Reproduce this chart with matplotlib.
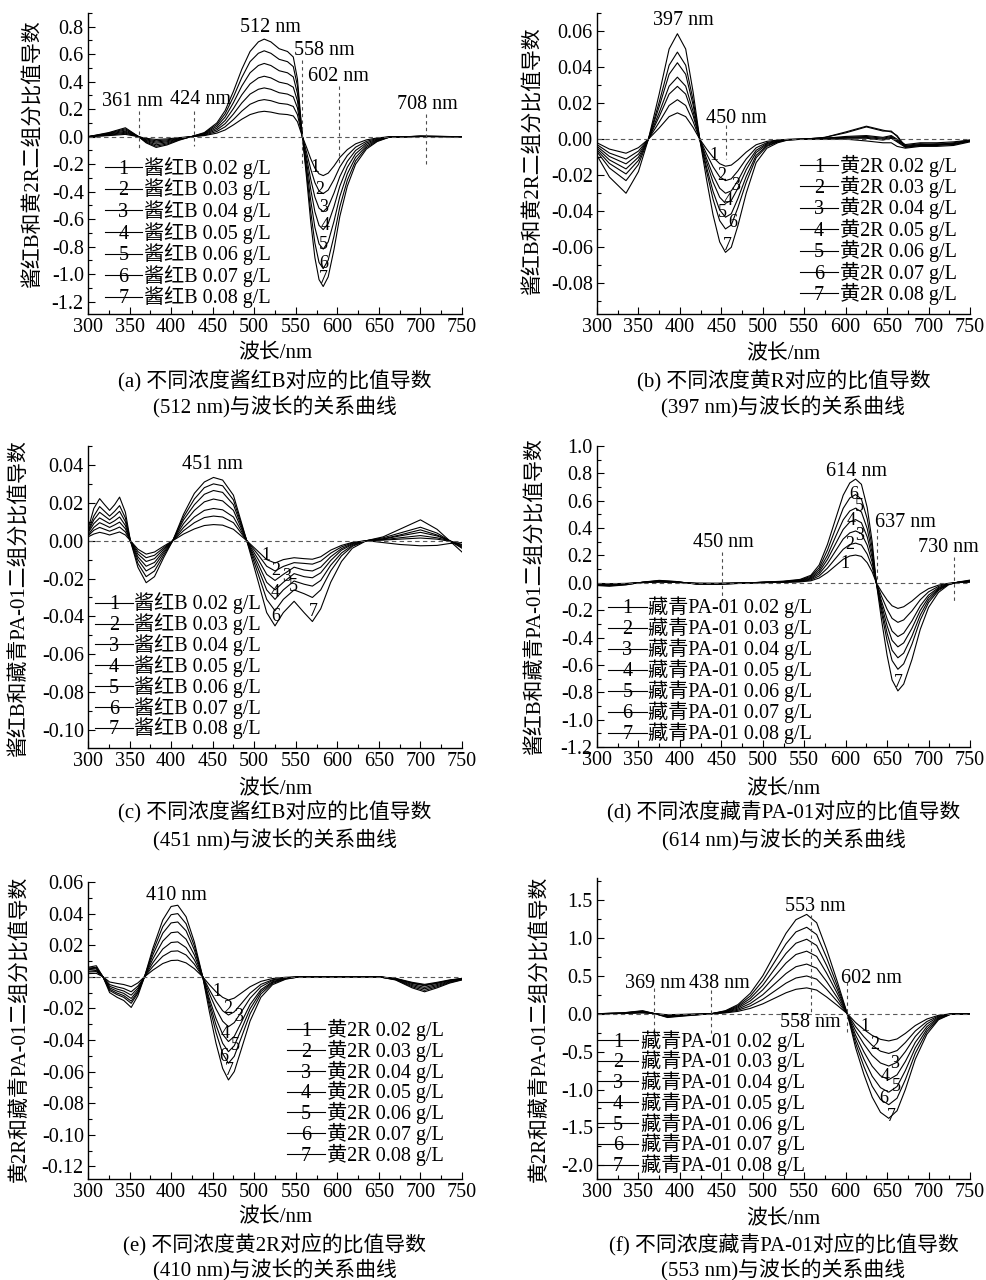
import matplotlib
matplotlib.use('Agg')
import matplotlib.pyplot as plt
from matplotlib.ticker import MultipleLocator, FuncFormatter
from matplotlib.transforms import offset_copy

plt.rcParams['font.family'] = ['Liberation Serif', 'Noto Sans CJK SC']
plt.rcParams['axes.unicode_minus'] = False

W, H = 987, 1280
CONC = ['0.02', '0.03', '0.04', '0.05', '0.06', '0.07', '0.08']
NUMS = ['1', '2', '3', '4', '5', '6', '7']

# ---------------- panel (a) ----------------
A_WL = [300, 325, 345, 361, 370, 382, 395, 410, 424, 440, 455, 465, 475, 485, 495, 505, 512, 520, 530, 540,
        547, 552, 558, 563, 568, 573, 578, 583, 589, 596, 603, 612, 622, 635, 648, 662, 700, 750]
A_C1 = [0.0, 0.008, 0.017, 0.0, -0.012, -0.020, -0.016, -0.0065, 0.0, 0.008, 0.026, 0.049, 0.086, 0.127, 0.161, 0.179, 0.185, 0.179, 0.166, 0.161,
        0.151, 0.109, 0.0, -0.078, -0.161, -0.229, -0.27, -0.283, -0.265, -0.213, -0.151, -0.094, -0.052, -0.023, -0.009, -0.001, 0.001, 0.0]
A_C2 = [0.0, 0.011, 0.025, 0.0, -0.017, -0.030, -0.023, -0.0095, 0.0, 0.011, 0.038, 0.072, 0.125, 0.186, 0.236, 0.262, 0.27, 0.262, 0.243, 0.236,
        0.22, 0.16, 0.0, -0.114, -0.236, -0.334, -0.395, -0.414, -0.388, -0.312, -0.22, -0.137, -0.076, -0.034, -0.013, -0.002, 0.0015, 0.0]
A_C3 = [0.0, 0.015, 0.0325, 0.0, -0.0225, -0.039, -0.03, -0.0125, 0.0, 0.015, 0.05, 0.095, 0.165, 0.245, 0.31, 0.345, 0.355, 0.345, 0.32, 0.31,
        0.29, 0.21, 0.0, -0.15, -0.31, -0.44, -0.52, -0.545, -0.51, -0.41, -0.29, -0.18, -0.10, -0.045, -0.0175, -0.0025, 0.002, 0.0]
A_C4 = [0.0, 0.019, 0.040, 0.0, -0.028, -0.048, -0.037, -0.0155, 0.0, 0.019, 0.062, 0.118, 0.205, 0.304, 0.384, 0.428, 0.44, 0.428, 0.397, 0.384,
        0.36, 0.26, 0.0, -0.186, -0.384, -0.546, -0.645, -0.676, -0.632, -0.508, -0.36, -0.223, -0.124, -0.056, -0.022, -0.003, 0.0025, 0.0]
A_C5 = [0.0, 0.0225, 0.049, 0.0, -0.034, -0.059, -0.045, -0.019, 0.0, 0.0225, 0.075, 0.143, 0.248, 0.368, 0.465, 0.518, 0.533, 0.518, 0.48, 0.465,
        0.435, 0.315, 0.0, -0.225, -0.465, -0.66, -0.78, -0.818, -0.765, -0.615, -0.435, -0.27, -0.15, -0.068, -0.026, -0.004, 0.003, 0.0]
A_C6 = [0.0, 0.026, 0.057, 0.0, -0.040, -0.069, -0.053, -0.022, 0.0, 0.026, 0.088, 0.167, 0.29, 0.43, 0.546, 0.607, 0.625, 0.607, 0.563, 0.546,
        0.51, 0.37, 0.0, -0.264, -0.546, -0.774, -0.915, -0.96, -0.898, -0.722, -0.51, -0.317, -0.176, -0.079, -0.031, -0.004, 0.0035, 0.0]
A_C7 = [0.0, 0.03, 0.065, 0.0, -0.045, -0.078, -0.06, -0.025, 0.0, 0.03, 0.10, 0.19, 0.33, 0.49, 0.62, 0.69, 0.71, 0.69, 0.64, 0.62,
        0.58, 0.42, 0.0, -0.30, -0.62, -0.88, -1.04, -1.09, -1.02, -0.82, -0.58, -0.36, -0.20, -0.09, -0.035, -0.005, 0.004, 0.0]

# ---------------- panel (b) ----------------
B_WL = [300, 315, 335, 350, 362, 375, 387, 397, 407, 416, 424, 432, 440, 448, 455, 462, 470, 480, 492, 505, 518, 530, 550,
        575, 600, 625, 645, 655, 662, 672, 690, 710, 730, 750]
B_C1 = [-0.002, -0.0055, -0.0078, -0.0047, 0.0, 0.0062, 0.0125, 0.0146, 0.0125, 0.0065, 0.0, -0.0053, -0.010, -0.0136, -0.015, -0.0144, -0.0115, -0.0072, -0.0031, -0.0012, -0.0005, -0.0001, 0.0,
        0.0, 0.0, -0.001, -0.002, -0.002, -0.004, -0.005, -0.004, -0.004, -0.0035, -0.0015]
B_C2 = [-0.003, -0.0077, -0.011, -0.0066, 0.0, 0.0094, 0.0187, 0.0219, 0.0187, 0.0097, 0.0, -0.008, -0.0153, -0.0209, -0.023, -0.022, -0.0176, -0.011, -0.0048, -0.0019, -0.0007, -0.0002, 0.0,
        0.0, 0.0005, 0.0005, -0.0005, 0.0005, -0.0015, -0.0045, -0.0035, -0.0035, -0.003, -0.001]
B_C3 = [-0.004, -0.0096, -0.0137, -0.0083, 0.0, 0.0125, 0.025, 0.0293, 0.025, 0.013, 0.0, -0.0105, -0.020, -0.0272, -0.030, -0.0287, -0.023, -0.0143, -0.0062, -0.0024, -0.001, -0.0002, 0.0,
        0.0005, 0.001, 0.001, 0.0, 0.001, -0.001, -0.004, -0.003, -0.003, -0.0025, -0.001]
B_C4 = [-0.005, -0.0115, -0.0165, -0.0100, 0.0, 0.0147, 0.0294, 0.0344, 0.0294, 0.0153, 0.0, -0.0125, -0.0238, -0.0322, -0.0356, -0.034, -0.0272, -0.017, -0.0074, -0.0029, -0.0011, -0.0003, 0.0,
        0.0005, 0.001, 0.0015, 0.0005, 0.0015, -0.0005, -0.0035, -0.0025, -0.003, -0.002, -0.0005]
B_C5 = [-0.006, -0.0135, -0.0193, -0.0118, 0.0, 0.018, 0.036, 0.0424, 0.036, 0.0188, 0.0, -0.0152, -0.029, -0.0393, -0.0433, -0.0414, -0.033, -0.0207, -0.009, -0.0035, -0.0014, -0.0003, 0.0,
        0.0005, 0.0015, 0.002, 0.001, 0.002, 0.0, -0.003, -0.002, -0.002, -0.0015, -0.0005]
B_C6 = [-0.007, -0.016, -0.023, -0.014, 0.0, 0.0205, 0.041, 0.0483, 0.041, 0.0215, 0.0, -0.0175, -0.0333, -0.0452, -0.0498, -0.0476, -0.038, -0.024, -0.0103, -0.004, -0.0016, -0.0004, 0.0,
        0.001, 0.0035, 0.0068, 0.0045, 0.0045, 0.0015, -0.0045, -0.0035, -0.003, -0.0025, -0.0008]
B_C7 = [-0.009, -0.021, -0.030, -0.018, 0.0, 0.025, 0.050, 0.0585, 0.050, 0.026, 0.0, -0.022, -0.042, -0.057, -0.0628, -0.060, -0.048, -0.030, -0.013, -0.005, -0.002, -0.0005, 0.0,
        0.001, 0.004, 0.0072, 0.005, 0.004, 0.002, -0.004, -0.003, -0.0025, -0.003, -0.001]

# ---------------- panel (c) ----------------
C_WL = [300, 307, 314, 320, 326, 332, 338, 345, 351, 360, 370, 380, 391, 402, 415, 428, 440, 451, 462, 475,
        491, 505, 515, 525, 535, 548, 560, 570, 580, 592, 605, 618, 635, 655, 675, 700, 720, 735, 750]
C_C1 = [0.002, 0.0035, 0.0044, 0.0038, 0.003, 0.0038, 0.0046, 0.003, 0.0, -0.0045, -0.0071, -0.006, -0.0029, 0.0, 0.0035, 0.0062, 0.008, 0.0085, 0.0082, 0.006,
        0.0, -0.0058, -0.010, -0.0118, -0.010, -0.009, -0.0095, -0.0098, -0.0085, -0.005, -0.0025, -0.0009, 0.0, -0.001, -0.002, -0.0027, -0.0025, -0.0015, -0.001]
C_C2 = [0.0025, 0.0055, 0.007, 0.006, 0.005, 0.006, 0.0072, 0.0046, 0.0, -0.0057, -0.009, -0.0077, -0.0037, 0.0, 0.0053, 0.0095, 0.0122, 0.013, 0.0125, 0.0095,
        0.0, -0.0076, -0.0135, -0.016, -0.0136, -0.0116, -0.012, -0.0124, -0.0108, -0.0066, -0.0033, -0.0012, 0.0, 0.0003, 0.0008, 0.0014, 0.0008, -0.0003, -0.002]
C_C3 = [0.003, 0.007, 0.0095, 0.0083, 0.007, 0.0083, 0.0098, 0.0063, 0.0, -0.007, -0.011, -0.0095, -0.0045, 0.0, 0.007, 0.0125, 0.016, 0.017, 0.0163, 0.0125,
        0.0, -0.010, -0.0178, -0.021, -0.0178, -0.014, -0.0155, -0.016, -0.014, -0.0085, -0.0042, -0.0016, 0.0, 0.0005, 0.0015, 0.0027, 0.0015, 0.0, -0.0025]
C_C4 = [0.004, 0.009, 0.012, 0.0105, 0.009, 0.0105, 0.0125, 0.008, 0.0, -0.0085, -0.0135, -0.0115, -0.0055, 0.0, 0.009, 0.016, 0.0205, 0.022, 0.021, 0.016,
        0.0, -0.0125, -0.022, -0.026, -0.022, -0.0174, -0.019, -0.0196, -0.017, -0.0105, -0.005, -0.002, 0.0, 0.0008, 0.0025, 0.0044, 0.0025, 0.0, -0.003]
C_C5 = [0.0045, 0.011, 0.015, 0.013, 0.011, 0.013, 0.0155, 0.010, 0.0, -0.010, -0.016, -0.0135, -0.0065, 0.0, 0.011, 0.019, 0.0245, 0.0265, 0.0255, 0.019,
        0.0, -0.015, -0.026, -0.031, -0.026, -0.0213, -0.023, -0.024, -0.021, -0.013, -0.0065, -0.0025, 0.0, 0.001, 0.003, 0.0057, 0.003, 0.0, -0.0035]
C_C6 = [0.005, 0.013, 0.018, 0.0155, 0.013, 0.0155, 0.0185, 0.012, 0.0, -0.012, -0.019, -0.016, -0.0077, 0.0, 0.0125, 0.022, 0.028, 0.030, 0.029, 0.0215,
        0.0, -0.018, -0.031, -0.037, -0.031, -0.026, -0.028, -0.030, -0.026, -0.016, -0.008, -0.003, 0.0, 0.0015, 0.004, 0.0071, 0.004, 0.0, -0.004]
C_C7 = [0.006, 0.017, 0.0222, 0.019, 0.016, 0.019, 0.023, 0.015, 0.0, -0.014, -0.0222, -0.019, -0.009, 0.0, 0.014, 0.025, 0.031, 0.0334, 0.032, 0.024,
        0.0, -0.022, -0.038, -0.045, -0.038, -0.032, -0.038, -0.0427, -0.036, -0.022, -0.011, -0.004, 0.0, 0.002, 0.006, 0.011, 0.006, 0.0, -0.006]

# ---------------- panel (d) ----------------
D_WL = [300, 315, 335, 355, 375, 395, 420, 445, 470, 500, 525, 545, 558, 568, 578, 588, 597, 605, 612, 619,
        626, 632, 637, 643, 650, 656, 663, 670, 680, 690, 700, 712, 724, 735, 750]
D_C1 = [-0.0054, -0.0067, -0.004, 0.0013, 0.0048, 0.0027, -0.0027, -0.0032, -0.0013, 0.0013, 0.0032, 0.0067, 0.0147, 0.035, 0.075, 0.126, 0.172, 0.196, 0.203, 0.193,
        0.147, 0.080, 0.0, -0.062, -0.126, -0.168, -0.187, -0.175, -0.133, -0.081, -0.043, -0.017, -0.0036, 0.0012, 0.0047]
D_C2 = [-0.0077, -0.0096, -0.0057, 0.0019, 0.0069, 0.0038, -0.0038, -0.0046, -0.0019, 0.0019, 0.0046, 0.0096, 0.021, 0.05, 0.107, 0.18, 0.245, 0.28, 0.29, 0.276,
        0.21, 0.115, 0.0, -0.095, -0.194, -0.26, -0.289, -0.271, -0.205, -0.124, -0.066, -0.026, -0.0055, 0.0018, 0.0073]
D_C3 = [-0.010, -0.0125, -0.0075, 0.0025, 0.009, 0.005, -0.005, -0.006, -0.0025, 0.0025, 0.006, 0.0125, 0.0275, 0.065, 0.14, 0.235, 0.32, 0.365, 0.379, 0.36,
        0.275, 0.15, 0.0, -0.129, -0.263, -0.353, -0.393, -0.368, -0.278, -0.169, -0.0895, -0.035, -0.0075, 0.0025, 0.01]
D_C4 = [-0.012, -0.015, -0.009, 0.003, 0.011, 0.006, -0.006, -0.0073, -0.003, 0.003, 0.0073, 0.015, 0.0335, 0.079, 0.171, 0.287, 0.39, 0.445, 0.462, 0.439,
        0.336, 0.183, 0.0, -0.154, -0.314, -0.421, -0.468, -0.439, -0.332, -0.202, -0.107, -0.042, -0.009, 0.003, 0.012]
D_C5 = [-0.0145, -0.018, -0.011, 0.0035, 0.013, 0.007, -0.007, -0.0085, -0.0035, 0.0035, 0.0085, 0.018, 0.04, 0.094, 0.20, 0.34, 0.46, 0.525, 0.546, 0.518,
        0.396, 0.216, 0.0, -0.18, -0.368, -0.493, -0.548, -0.514, -0.389, -0.236, -0.125, -0.049, -0.010, 0.0035, 0.014]
D_C6 = [-0.017, -0.021, -0.013, 0.004, 0.015, 0.0085, -0.0085, -0.010, -0.004, 0.004, 0.010, 0.021, 0.047, 0.11, 0.238, 0.40, 0.544, 0.62, 0.645, 0.612,
        0.468, 0.255, 0.0, -0.208, -0.424, -0.568, -0.632, -0.592, -0.448, -0.272, -0.144, -0.056, -0.012, 0.004, 0.016]
D_C7 = [-0.02, -0.025, -0.015, 0.005, 0.018, 0.01, -0.01, -0.012, -0.005, 0.005, 0.012, 0.025, 0.055, 0.13, 0.28, 0.47, 0.64, 0.73, 0.758, 0.72,
        0.55, 0.30, 0.0, -0.26, -0.53, -0.71, -0.79, -0.74, -0.56, -0.34, -0.18, -0.07, -0.015, 0.005, 0.02]

# ---------------- panel (e) ----------------
E_WL = [300, 310, 318, 326, 335, 343, 352, 360, 368, 378, 390, 400, 408, 418, 428, 438, 446, 454, 462, 469,
        476, 485, 495, 508, 522, 538, 555, 600, 650, 670, 690, 705, 720, 735, 750]
E_C1 = [0.002, 0.0022, 0.0, -0.0033, -0.0042, -0.0049, -0.0063, -0.0039, 0.0, 0.0042, 0.0084, 0.0103, 0.0105, 0.0088, 0.0051, 0.0, -0.005, -0.0095, -0.013, -0.0147,
        -0.0135, -0.0101, -0.0063, -0.0029, -0.0011, -0.0003, 0.0, 0.0, 0.0, -0.001, -0.0035, -0.0048, -0.0035, -0.002, -0.001]
E_C2 = [0.003, 0.0033, 0.0, -0.0049, -0.0064, -0.0074, -0.0095, -0.0059, 0.0, 0.0065, 0.013, 0.0161, 0.0164, 0.0138, 0.008, 0.0, -0.0081, -0.0155, -0.0215, -0.0242,
        -0.0222, -0.0167, -0.0104, -0.0048, -0.0019, -0.0006, 0.0, 0.0, 0.0, -0.0011, -0.0039, -0.0052, -0.0039, -0.0022, -0.0011]
E_C3 = [0.0035, 0.004, 0.0, -0.006, -0.0078, -0.009, -0.0116, -0.0072, 0.0, 0.0088, 0.0176, 0.0217, 0.0221, 0.0185, 0.0107, 0.0, -0.0106, -0.0203, -0.0281, -0.0316,
        -0.029, -0.0218, -0.0136, -0.0063, -0.0024, -0.0007, 0.0, 0.0, 0.0, -0.0012, -0.0042, -0.0057, -0.0042, -0.0024, -0.0012]
E_C4 = [0.0045, 0.005, 0.0, -0.007, -0.0091, -0.0105, -0.0137, -0.0084, 0.0, 0.0113, 0.0226, 0.0279, 0.0284, 0.0238, 0.0138, 0.0, -0.0138, -0.0264, -0.0364, -0.041,
        -0.0377, -0.0283, -0.0176, -0.0082, -0.0031, -0.0009, 0.0, 0.0, 0.0, -0.0014, -0.0049, -0.0067, -0.0049, -0.0028, -0.0014]
E_C5 = [0.005, 0.0055, 0.0, -0.0079, -0.0103, -0.0119, -0.0154, -0.0095, 0.0, 0.0138, 0.0276, 0.0341, 0.0347, 0.0291, 0.0169, 0.0, -0.016, -0.0305, -0.0421, -0.0474,
        -0.0436, -0.0327, -0.0203, -0.0094, -0.0036, -0.0011, 0.0, 0.0, 0.0, -0.0016, -0.0056, -0.0076, -0.0056, -0.0032, -0.0016]
E_C6 = [0.0055, 0.006, 0.0, -0.0087, -0.0113, -0.013, -0.0168, -0.0104, 0.0, 0.016, 0.0318, 0.0393, 0.040, 0.0336, 0.0194, 0.0, -0.0184, -0.0352, -0.0486, -0.0547,
        -0.0503, -0.0377, -0.0235, -0.0109, -0.0042, -0.0013, 0.0, 0.0, 0.0, -0.0018, -0.0063, -0.0086, -0.0063, -0.0036, -0.0018]
E_C7 = [0.006, 0.007, 0.0, -0.010, -0.013, -0.015, -0.0194, -0.012, 0.0, 0.018, 0.036, 0.0445, 0.0453, 0.038, 0.022, 0.0, -0.022, -0.042, -0.058, -0.0653,
        -0.060, -0.045, -0.028, -0.013, -0.005, -0.0015, 0.0, 0.0, 0.0, -0.002, -0.007, -0.0095, -0.007, -0.004, -0.002]

# ---------------- panel (f) ----------------
F_WL = [300, 330, 355, 370, 385, 405, 438, 455, 470, 485, 500, 515, 528, 540, 553, 565, 577, 590, 602, 612,
        622, 632, 642, 652, 662, 672, 684, 698, 712, 726, 750]
F_C1 = [0.0, 0.0026, 0.0104, 0.0, -0.013, -0.0078, 0.0, 0.0104, 0.0312, 0.0702, 0.13, 0.208, 0.276, 0.322, 0.341, 0.312, 0.221, 0.109, 0.0, -0.117,
        -0.208, -0.286, -0.338, -0.359, -0.333, -0.26, -0.156, -0.070, -0.021, -0.0026, 0.0]
F_C2 = [0.0, 0.0038, 0.015, 0.0, -0.019, -0.0114, 0.0, 0.015, 0.0456, 0.1026, 0.19, 0.304, 0.403, 0.471, 0.498, 0.456, 0.323, 0.16, 0.0, -0.171,
        -0.304, -0.418, -0.494, -0.524, -0.486, -0.38, -0.228, -0.103, -0.030, -0.0038, 0.0]
F_C3 = [0.0, 0.005, 0.02, 0.0, -0.025, -0.015, 0.0, 0.02, 0.06, 0.135, 0.25, 0.40, 0.53, 0.62, 0.655, 0.60, 0.425, 0.21, 0.0, -0.225,
        -0.40, -0.55, -0.65, -0.69, -0.64, -0.50, -0.30, -0.135, -0.04, -0.005, 0.0]
F_C4 = [0.0, 0.0063, 0.025, 0.0, -0.0315, -0.019, 0.0, 0.025, 0.0756, 0.17, 0.315, 0.504, 0.668, 0.781, 0.825, 0.756, 0.5355, 0.265, 0.0, -0.2835,
        -0.504, -0.693, -0.819, -0.869, -0.806, -0.63, -0.378, -0.17, -0.0504, -0.0063, 0.0]
F_C5 = [0.0, 0.0075, 0.03, 0.0, -0.0375, -0.0225, 0.0, 0.03, 0.09, 0.2025, 0.375, 0.60, 0.795, 0.93, 0.9825, 0.90, 0.6375, 0.315, 0.0, -0.3375,
        -0.60, -0.825, -0.975, -1.035, -0.96, -0.75, -0.45, -0.2025, -0.06, -0.0075, 0.0]
F_C6 = [0.0, 0.0087, 0.035, 0.0, -0.0435, -0.026, 0.0, 0.035, 0.104, 0.235, 0.435, 0.696, 0.922, 1.079, 1.14, 1.044, 0.74, 0.365, 0.0, -0.39,
        -0.696, -0.957, -1.131, -1.20, -1.114, -0.87, -0.522, -0.235, -0.07, -0.009, 0.0]
F_C7 = [0.0, 0.01, 0.04, 0.0, -0.05, -0.03, 0.0, 0.04, 0.12, 0.27, 0.50, 0.80, 1.06, 1.24, 1.31, 1.20, 0.85, 0.42, 0.0, -0.45,
        -0.80, -1.10, -1.30, -1.38, -1.28, -1.0, -0.6, -0.27, -0.08, -0.01, 0.0]

FS_TICK = 14.5
FS_TEXT = 15
FS_NUM = 13

fig = plt.figure(figsize=(W / 100, H / 100), dpi=100)
fig.patch.set_facecolor('white')


def px_rect(x0, ytop, x1, ybot):
    return [x0 / W, 1 - ybot / H, (x1 - x0) / W, (ybot - ytop) / H]


def ftext(x, y, s, **kw):
    fig.text(x / W, 1 - y / H, s, ha='center', va='center', fontsize=FS_TEXT, **kw)


def make_fmt(fmt):
    def f(v, pos):
        s = fmt % v
        if s.startswith('-') and float(s) == 0:
            s = s[1:]
        return s
    return FuncFormatter(f)


def draw_panel(rect, wl, curves, ylim, major, minor, fmt, dye, leg, vlines, annots, nums,
               ylabel, ylab_xy, xlab_y, caps, cap_ys):
    ax = fig.add_axes(rect)
    for c in curves:
        ax.plot(wl, c, color='black', lw=0.8, solid_joinstyle='round')
    ax.axhline(0, color='0.35', lw=0.8, ls=(0, (4, 3)))
    for x, y0, y1 in vlines:
        ax.plot([x, x], [y0, y1], color='0.3', lw=0.8, ls=(0, (3, 3)))
    for x, y, s in annots:
        ax.text(x, y, s, ha='center', va='center', fontsize=FS_TICK)
    for (x, y), s in zip(nums, NUMS):
        ax.text(x, y, s, ha='center', va='center', fontsize=FS_NUM)
    lx0, lx1, tx, y0, dy = leg
    tr = offset_copy(ax.transAxes, fig=fig, y=-0.33 * FS_TICK, units='points')
    for i in range(7):
        yy = y0 - i * dy
        ax.plot([lx0, lx1], [yy, yy], transform=ax.transAxes, color='black', lw=0.8, clip_on=False)
        ax.text((lx0 + lx1) / 2, yy, NUMS[i], transform=tr, ha='center', va='baseline',
                fontsize=FS_TICK)
        ax.text(tx, yy, dye + ' ' + CONC[i] + ' g/L', transform=tr, ha='left',
                va='baseline', fontsize=FS_TICK)
    ax.set_xlim(300, 750)
    ax.set_ylim(*ylim)
    ax.xaxis.set_major_locator(MultipleLocator(50))
    ax.xaxis.set_minor_locator(MultipleLocator(25))
    ax.yaxis.set_major_locator(MultipleLocator(major))
    ax.yaxis.set_minor_locator(MultipleLocator(minor))
    ax.yaxis.set_major_formatter(make_fmt(fmt))
    ax.tick_params(which='both', direction='in', top=False, right=False, width=0.8,
                   labelsize=FS_TICK, pad=3)
    ax.tick_params(which='major', length=5)
    ax.tick_params(which='minor', length=3)
    for s in ['top', 'right']:
        ax.spines[s].set_visible(False)
    for s in ['left', 'bottom']:
        ax.spines[s].set_linewidth(1.0)
    cx = (rect[0] + rect[2] / 2) * W
    fig.text(ylab_xy[0] / W, 1 - ylab_xy[1] / H, ylabel, rotation=90, ha='center', va='center',
             fontsize=FS_TEXT)
    ftext(cx, xlab_y, '波长/nm')
    ftext(cx, cap_ys[0], caps[0])
    ftext(cx, cap_ys[1], caps[1])
    return ax


# (a)
draw_panel(px_rect(88, 13, 462, 314), A_WL, [A_C1, A_C2, A_C3, A_C4, A_C5, A_C6, A_C7],
           (-1.29, 0.9), 0.2, 0.1, '%.1f', '酱红B', (0.045, 0.144, 0.15, 0.488, 0.0718),
           [(361, 0.19, -0.10), (427, 0.19, -0.066), (558, 0.556, -0.22), (602, 0.366, -0.19), (707, 0.166, -0.20)],
           [(354, 0.255, '361 nm'), (435, 0.27, '424 nm'), (520, 0.795, '512 nm'),
            (584, 0.63, '558 nm'), (601, 0.44, '602 nm'), (708, 0.234, '708 nm')],
           [(572.7, -0.224), (578.8, -0.383), (583, -0.517), (585, -0.644), (583, -0.785), (583.6, -0.925), (583, -1.03)],
           '酱红B和黄2R二组分比值导数', (33, 153), 354,
           ('(a) 不同浓度酱红B对应的比值导数', '(512 nm)与波长的关系曲线'), (381, 407))

# (b)
draw_panel(px_rect(597, 13, 970, 314), B_WL, [B_C1, B_C2, B_C3, B_C4, B_C5, B_C6, B_C7],
           (-0.097, 0.07), 0.02, 0.01, '%.2f', '黄2R', (0.544, 0.646, 0.652, 0.495, 0.0711),
           [(456, 0.0076, -0.011)],
           [(404.5, 0.0656, '397 nm'), (468.7, 0.0113, '450 nm')],
           [(441, -0.009), (451, -0.020), (466.7, -0.0257), (458.7, -0.034), (450.7, -0.0405), (464, -0.046), (457, -0.059)],
           '酱红B和黄2R二组分比值导数', (533, 160), 355,
           ('(b) 不同浓度黄R对应的比值导数', '(397 nm)与波长的关系曲线'), (381, 407))

# (c)
draw_panel(px_rect(88, 446, 462, 748), C_WL, [C_C1, C_C2, C_C3, C_C4, C_C5, C_C6, C_C7],
           (-0.1095, 0.05), 0.02, 0.01, '%.2f', '酱红B', (0.019, 0.12, 0.123, 0.481, 0.069),
           [],
           [(450, 0.0404, '451 nm')],
           [(514.6, -0.008), (525.7, -0.016), (539, -0.0187), (525.7, -0.0276), (546.6, -0.024), (525.7, -0.040), (570.7, -0.0373)],
           '酱红B和藏青PA-01二组分比值导数', (19, 598), 790,
           ('(c) 不同浓度酱红B对应的比值导数', '(451 nm)与波长的关系曲线'), (812, 840))

# (d)
draw_panel(px_rect(597, 446, 970, 747), D_WL, [D_C1, D_C2, D_C3, D_C4, D_C5, D_C6, D_C7],
           (-1.2, 1.0), 0.2, 0.1, '%.1f', '藏青PA-01', (0.029, 0.134, 0.137, 0.466, 0.0698),
           [(451, 0.222, -0.14), (637.5, 0.39, -0.01), (730.5, 0.186, -0.14)],
           [(613.4, 0.814, '614 nm'), (671.7, 0.444, '637 nm'), (451.9, 0.295, '450 nm'), (723.8, 0.258, '730 nm')],
           [(599.4, 0.138), (605.4, 0.283), (617.4, 0.348), (606.2, 0.452), (616.6, 0.556), (610.2, 0.645), (663.6, -0.732)],
           '酱红B和藏青PA-01二组分比值导数', (535, 596), 790,
           ('(d) 不同浓度藏青PA-01对应的比值导数', '(614 nm)与波长的关系曲线'), (812, 840))

# (e)
draw_panel(px_rect(88, 882, 462, 1179), E_WL, [E_C1, E_C2, E_C3, E_C4, E_C5, E_C6, E_C7],
           (-0.128, 0.06), 0.02, 0.01, '%.2f', '黄2R', (0.532, 0.634, 0.639, 0.504, 0.070),
           [],
           [(406, 0.0516, '410 nm')],
           [(455.2, -0.0095), (467.6, -0.020), (481.7, -0.0253), (464.8, -0.0362), (477.7, -0.0432), (463.2, -0.0505), (469.7, -0.0594)],
           '黄2R和藏青PA-01二组分比值导数', (20, 1029), 1218,
           ('(e) 不同浓度黄2R对应的比值导数', '(410 nm)与波长的关系曲线'), (1245, 1270))

# (f)
draw_panel(px_rect(597, 878, 970, 1179), F_WL, [F_C1, F_C2, F_C3, F_C4, F_C5, F_C6, F_C7],
           (-2.18, 1.79), 0.5, 0.25, '%.1f', '藏青PA-01', (0.003, 0.11, 0.118, 0.462, 0.069),
           [(368.5, 0.34, -0.233), (438, 0.317, -0.255), (558, 1.3, 0.0), (602, 0.42, -0.255)],
           [(563, 1.418, '553 nm'), (557.5, -0.115, '558 nm'), (631.5, 0.471, '602 nm'),
            (370.3, 0.396, '369 nm'), (447.9, 0.396, '438 nm')],
           [(623.4, -0.167), (635.5, -0.41), (659.6, -0.66), (647.5, -0.828), (660.8, -0.96), (645.5, -1.115), (655.6, -1.35)],
           '黄2R和藏青PA-01二组分比值导数', (540, 1029), 1220,
           ('(f) 不同浓度藏青PA-01对应的比值导数', '(553 nm)与波长的关系曲线'), (1245, 1270))

fig.savefig('out.png', dpi=100, facecolor='white')
